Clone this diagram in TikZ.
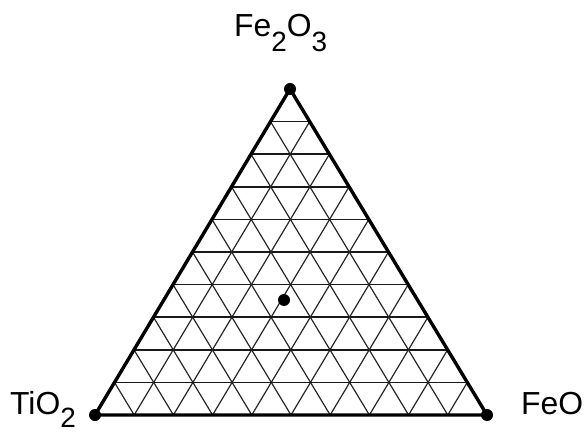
\documentclass[tikz,border=0pt]{standalone}
\usepackage{fontspec}
\setmainfont{Liberation Sans}
\usetikzlibrary{calc}
\tikzset{
  vdot/.style={circle,fill=black,inner sep=0pt,minimum size=12bp},
  lbl/.style={inner sep=0pt,font=\fontsize{32}{36}\selectfont},
  gridline/.style={line width=1.2bp,black!85},
  hgridline/.style={line width=1.7bp,black!90},
  frame/.style={line width=3.4bp,line join=round}
}
\newcommand{\subn}[1]{\raisebox{-15bp}{\fontsize{28}{30}\selectfont #1}}
\newcommand{\subm}[1]{\raisebox{-13bp}{\fontsize{28}{30}\selectfont #1}}
\begin{document}
\begin{tikzpicture}[x=1bp,y=-1bp]
\useasboundingbox (0,0) rectangle (584,436);
\coordinate (A) at (290,89);
\coordinate (B) at (95,415);
\coordinate (C) at (487,415);
% grid
\foreach \i in {1,...,9}{
  \draw[hgridline] ($(A)!\i/10!(B)$) -- ($(A)!\i/10!(C)$);
  \draw[gridline] ($(B)!\i/10!(C)$) -- ($(A)!\i/10!(C)$);
  \draw[gridline] ($(B)!\i/10!(C)$) -- ($(B)!\i/10!(A)$);
}
\draw[frame] (A) -- (B) -- (C) -- cycle;
\node[vdot] (dA) at (A) {};
\node[vdot] (dB) at (B) {};
\node[vdot] (dC) at (C) {};
\node[vdot] (p) at (284,300) {};
% labels
\node[lbl,anchor=base west] (lA) at (234,37) {Fe\subn{2}O\subn{3}};
\node[lbl,anchor=base west] (lB) at (10,414) {TiO\subm{2}};
\node[lbl,anchor=base west] (lC) at (521,414) {FeO};
\end{tikzpicture}
\end{document}
